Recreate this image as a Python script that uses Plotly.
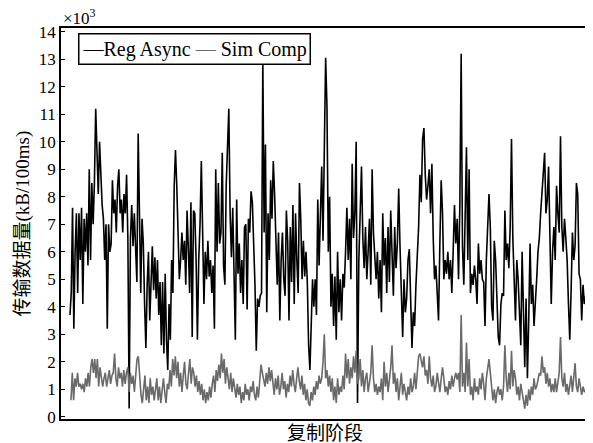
import numpy as np
import plotly.graph_objects as go

# --- data (thousands of kB per 100 ms) in four consecutive stretches ---
reg_async_1 = [3.7, 4.5, 7.6, 3.2, 6.0, 7.4, 4.5, 7.4, 5.7, 7.6, 4.1, 7.2, 6.0, 7.4, 5.5, 9.0, 5.7, 8.5, 7.0, 8.5,
               11.2, 9.1, 8.1, 10.0, 8.4, 7.7, 7.2, 5.7, 7.0, 3.2, 7.0, 6.0, 6.3, 8.6, 7.4, 7.9, 6.7, 8.4, 9.0, 7.4,
               7.9, 6.7, 8.1, 7.4, 8.8, 6.5, 0.3, 6.5, 7.7, 6.2, 7.4, 5.7, 4.9, 10.3, 7.0, 4.5, 7.2, 6.3, 4.1, 2.5,
               4.8, 6.0, 3.5, 4.8, 6.2, 4.6, 5.8, 4.3, 5.7, 3.7, 4.9, 2.6, 4.9, 2.3, 5.2, 2.8, 1.7, 4.1, 2.8, 5.7,
               4.5, 8.4, 9.7, 8.4, 7.0, 5.0, 5.7, 6.7, 5.7, 6.4, 4.8, 7.5, 6.1, 4.5, 7.8, 2.9, 7.5]
reg_async_2 = [7.4, 5.7, 2.8, 5.7, 7.0, 9.3, 6.4, 4.1, 6.0, 5.0, 6.4, 5.1, 5.7, 4.5, 5.5, 3.2, 9.0, 6.0, 8.5, 6.3,
               6.7, 9.6, 5.5, 4.8, 8.4, 10.2, 11.2, 7.4, 5.8, 7.6, 4.6, 2.8, 7.9, 5.2, 6.3, 4.5, 5.7, 4.1, 6.9, 7.0,
               3.9, 7.2, 6.7, 8.2, 7.8, 6.3, 4.8, 2.4, 4.3, 4.0, 4.4, 4.5, 13.0, 6.7, 9.9, 3.8, 7.4, 5.7, 8.6, 7.2,
               9.3, 8.1, 6.4, 4.8, 6.7, 3.5, 5.7, 6.7, 5.0, 4.4, 7.5, 6.4, 3.5, 6.9, 4.9, 7.7, 4.1, 7.4, 5.7, 4.5,
               8.5, 7.2, 5.0, 6.4, 5.1, 6.0, 4.9, 2.6, 1.7, 3.3, 5.0, 4.0, 5.0, 3.7, 7.9, 5.5, 7.4, 9.1, 6.4]
reg_async_3 = [9.0, 13.06, 11.3, 6.0, 8.0, 4.0, 5.2, 3.3, 5.1, 2.8, 6.0, 3.8, 5.0, 3.5, 5.2, 4.7, 6.0, 7.6, 5.7, 7.2,
               5.0, 9.2, 6.5, 7.4, 10.0, 0.5, 5.7, 7.2, 9.1, 6.5, 5.4, 6.9, 5.0, 6.0, 7.2, 4.8, 9.0, 6.7, 5.7, 5.0,
               6.0, 4.3, 5.7, 3.8, 7.4, 5.5, 6.5, 4.5, 6.9, 4.9, 7.5, 5.7, 4.4, 6.9, 5.4, 6.3, 8.3, 6.2, 4.8, 2.9,
               5.0, 3.8, 4.3, 5.7, 6.1, 4.2, 2.5, 3.8, 3.3, 4.8, 5.7, 6.9, 8.8, 7.8, 10.1, 10.5, 8.8, 7.9, 8.4, 9.0,
               7.4, 9.2, 6.5, 5.0, 5.5, 4.3, 3.5, 6.3, 8.6, 7.4, 5.0, 5.7, 5.2, 6.0, 5.0, 5.7, 4.5, 6.0, 7.7, 6.3]
reg_async_4 = [7.2, 5.0, 7.7, 13.2, 6.2, 4.8, 7.4, 9.8, 5.7, 9.0, 4.5, 5.2, 4.8, 5.5, 5.0, 4.1, 6.3, 5.2, 5.7, 5.0,
               4.9, 3.3, 5.7, 7.2, 8.1, 6.9, 4.0, 3.5, 6.4, 5.7, 3.9, 2.9, 2.6, 4.1, 4.5, 4.4, 7.5, 5.7, 6.3, 5.4,
               6.9, 10.1, 6.5, 5.0, 3.5, 5.7, 5.0, 3.8, 2.6, 6.0, 3.3, 1.8, 4.3, 1.4, 3.5, 6.3, 4.1, 4.8, 3.3, 4.0,
               5.0, 6.0, 6.5, 7.4, 8.1, 8.8, 9.6, 7.4, 7.9, 9.1, 6.9, 4.1, 6.0, 6.9, 5.7, 8.4, 7.4, 6.7, 10.2, 6.9,
               6.0, 7.2, 6.5, 5.7, 4.1, 2.8, 4.6, 6.7, 5.7, 6.2, 8.5, 8.1, 5.2, 5.0, 3.5, 4.8, 4.1, 4.4, 4.1]

sim_comp_1 = [0.6, 1.6, 0.6, 1.4, 1.1, 1.6, 1.1, 1.2, 1.0, 1.2, 0.9, 1.4, 1.1, 1.6, 1.1, 1.8, 2.1, 1.6, 2.1, 1.4,
              2.1, 1.1, 1.8, 1.4, 1.1, 1.4, 1.6, 1.1, 1.4, 1.7, 1.2, 1.5, 1.6, 2.3, 1.4, 1.1, 1.8, 1.4, 1.6, 1.1,
              1.7, 1.2, 1.6, 1.8, 0.9, 1.6, 1.2, 1.5, 0.9, 1.4, 2.1, 2.2, 1.4, 0.8, 0.5, 0.9, 1.5, 0.6, 1.1, 0.5,
              1.4, 0.8, 1.1, 0.6, 1.0, 1.4, 0.6, 1.1, 0.5, 1.0, 1.4, 0.9, 0.5, 1.2, 1.0, 1.7, 1.1, 2.1, 1.5, 2.2,
              1.4, 2.0, 1.1, 1.6, 0.9, 1.5, 2.0, 1.2, 1.0, 1.6, 2.1, 1.2, 1.8]
sim_comp_2 = [1.6, 1.1, 1.5, 0.9, 1.3, 0.8, 1.2, 0.6, 1.0, 0.5, 0.9, 0.6, 1.1, 0.7, 1.2, 1.5, 0.9, 1.7, 1.3, 1.9,
              1.4, 2.3, 1.6, 2.1, 1.2, 1.8, 1.4, 1.0, 1.6, 0.9, 1.4, 1.0, 0.7, 1.2, 0.8, 1.1, 0.5, 0.9, 0.6, 1.2,
              0.8, 1.0, 0.6, 1.1, 0.9, 1.3, 0.8, 0.6, 1.1, 0.7, 1.4, 1.9, 1.6, 1.4, 1.1, 1.6, 1.2, 1.8, 1.3, 1.7,
              1.2, 0.8, 1.4, 1.0, 1.5, 0.8, 1.1, 1.6, 1.0, 1.3, 0.7, 1.2, 0.9, 1.5, 1.1, 1.7, 1.2, 0.9, 1.4, 1.8,
              1.3, 1.0, 1.5, 0.8, 1.2, 0.6, 1.0, 0.5, 0.4, 0.9, 0.6, 1.1, 0.8, 1.3, 1.0, 1.5, 1.2, 1.4, 2.0]
sim_comp_3 = [3.0, 1.4, 1.7, 1.1, 1.5, 0.9, 1.4, 0.6, 1.1, 0.5, 1.4, 0.8, 1.1, 0.9, 1.5, 1.0, 2.3, 1.4, 2.1, 1.2,
              1.8, 1.4, 2.2, 1.6, 2.4, 1.2, 1.4, 2.1, 1.1, 1.7, 0.9, 1.4, 1.6, 0.9, 1.2, 1.6, 2.6, 1.4, 0.9, 1.2,
              0.8, 1.1, 0.9, 1.4, 0.6, 2.0, 1.1, 1.6, 0.9, 1.4, 1.8, 2.6, 1.2, 1.6, 0.9, 1.4, 0.6, 1.1, 1.6, 0.8,
              1.2, 0.9, 0.6, 1.1, 0.8, 1.4, 0.9, 1.1, 1.6, 1.0, 1.6, 2.2, 2.3, 2.1, 1.8, 2.2, 1.5, 1.7, 1.2, 2.2,
              1.4, 1.1, 1.5, 0.9, 1.1, 1.6, 1.2, 0.9, 1.4, 1.8, 1.4, 0.9, 1.1, 0.8, 1.3, 1.0, 1.5, 1.1, 1.4, 1.6]
sim_comp_4 = [1.35, 1.6, 0.9, 3.7, 1.1, 1.6, 0.9, 2.7, 1.1, 2.1, 0.8, 1.1, 0.6, 1.4, 0.9, 1.1, 0.8, 1.4, 1.0, 1.6,
              1.2, 0.6, 1.4, 1.7, 2.1, 1.6, 1.1, 0.6, 1.0, 0.5, 0.9, 1.1, 0.8, 1.0, 0.6, 1.1, 2.6, 1.4, 0.9, 1.6,
              1.0, 2.4, 1.1, 1.7, 1.4, 0.8, 1.1, 0.6, 1.2, 0.9, 0.5, 0.3, 0.8, 0.4, 1.0, 0.6, 1.1, 0.8, 1.4, 1.0,
              1.1, 1.4, 1.6, 1.5, 2.2, 1.6, 1.8, 1.2, 1.6, 1.1, 1.4, 0.9, 1.2, 0.9, 1.4, 0.9, 1.2, 1.6, 2.9, 1.4,
              1.1, 1.6, 0.9, 1.2, 0.8, 1.1, 1.5, 0.9, 1.4, 1.95, 1.1, 0.9, 1.4, 1.0, 0.8, 1.1, 0.9, 1.0, 0.9]

# time stamps (arbitrary units along the replication phase) at the start/end of each stretch
reg_async_bounds = [(70.0, 194.0), (195.3, 324.0), (325.3, 457.3), (458.7, 589.0)]
sim_comp_bounds = [(71.0, 193.0), (194.3, 324.0), (325.3, 457.3), (458.7, 589.0)]
time_range = [61, 590]


def build(segments, bounds):
    xs, ys = [], []
    for seg, (a, b) in zip(segments, bounds):
        xs.extend(np.linspace(a, b, len(seg)).tolist())
        ys.extend(seg)
    return xs, ys


ra_x, ra_y = build([reg_async_1, reg_async_2, reg_async_3, reg_async_4], reg_async_bounds)
sc_x, sc_y = build([sim_comp_1, sim_comp_2, sim_comp_3, sim_comp_4], sim_comp_bounds)

SERIF = "Liberation Serif, Times New Roman, serif"
CJK = "Liberation Serif, Noto Sans CJK SC, serif"

fig = go.Figure()
fig.add_trace(go.Scatter(x=ra_x, y=ra_y, mode="lines", name="Reg Async",
                         line=dict(color="#000000", width=1.6), showlegend=False))
fig.add_trace(go.Scatter(x=sc_x, y=sc_y, mode="lines", name="Sim Comp",
                         line=dict(color="#6a6a6a", width=1.6), showlegend=False))

# the page body adds an 8 px margin, so the figure is 8 px smaller and its margins shifted
fig.update_layout(
    width=585, height=435,
    margin=dict(l=53, r=3, t=20, b=24),
    paper_bgcolor="white", plot_bgcolor="white",
    xaxis=dict(range=time_range, showticklabels=False, ticks="", showgrid=False, zeroline=False,
               showline=True, mirror=True, linecolor="black", linewidth=1.5),
    yaxis=dict(range=[-0.08, 14.14], dtick=1, tick0=0, ticks="inside", ticklen=4, tickwidth=1,
               tickcolor="black", showgrid=False, zeroline=False,
               showline=True, mirror=True, linecolor="black", linewidth=1.5,
               tickfont=dict(family=SERIF, size=17, color="black")),
    annotations=[
        dict(text="×10<sup>3</sup>", xref="paper", yref="paper", x=0.0, y=1.028,
             xanchor="left", yanchor="middle", showarrow=False,
             font=dict(family=SERIF, size=17, color="black")),
        dict(text="传输数据量(kB/100ms)", xref="paper", yref="paper", x=-0.074, y=0.5,
             xanchor="center", yanchor="middle", textangle=-90, showarrow=False,
             font=dict(family=CJK, size=19, color="black")),
        dict(text="复制阶段", xref="paper", yref="paper", x=0.5, y=-0.032,
             xanchor="center", yanchor="middle", showarrow=False,
             font=dict(family="Noto Sans CJK SC", size=19, color="black")),
        dict(text="<span style='color:#000000'>—</span>Reg Async <span style='color:#6a6a6a'>—</span> Sim Comp",
             xref="paper", yref="paper", x=0.032, y=0.987, xanchor="left", yanchor="top",
             showarrow=False, bgcolor="white", bordercolor="black", borderwidth=1.5, borderpad=3,
             font=dict(family=SERIF, size=20, color="black")),
    ],
)

fig.write_html("out.html")
